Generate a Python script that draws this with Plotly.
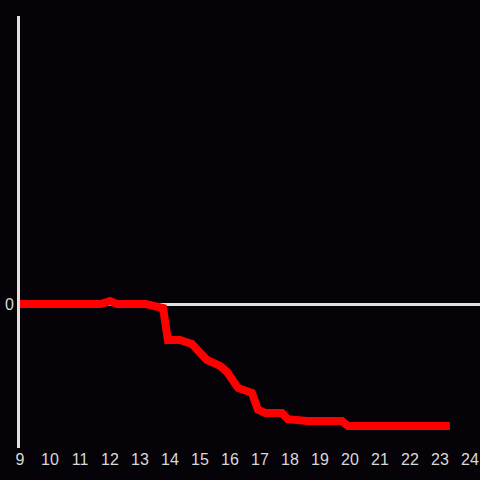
import plotly.graph_objects as go

hours = [9.0, 11.7, 12.0, 12.23, 13.2, 13.77, 13.93, 14.33, 14.73, 15.23, 15.67, 15.9,
         16.27, 16.73, 16.93, 17.17, 17.73, 17.93, 18.57, 19.73, 19.93, 23.33]
values = [0, 0, 1.2, 0, 0, -1.7, -15, -15, -16.7, -23.3, -25.8, -28.3,
          -35, -37, -44, -45.4, -45.4, -48, -48.75, -48.75, -50.8, -50.8]
x_ticks = list(range(9, 25))

fig = go.Figure(go.Scatter(x=hours, y=values, mode="lines",
                           line=dict(color="#ff0000", width=8)))

fig.update_layout(
    width=480, height=480,
    paper_bgcolor="#050308", plot_bgcolor="#050308",
    margin=dict(l=20, r=0, t=16, b=32),
    showlegend=False,
    font=dict(family="Liberation Sans, Arial, sans-serif", size=16, color="#d8d8d8"),
    xaxis=dict(range=[9, 24.333], tickvals=x_ticks, showgrid=False, zeroline=False,
               showline=False, ticks="", tickfont=dict(color="#d8d8d8")),
    yaxis=dict(range=[-60, 120], tickvals=[0], showgrid=False, zeroline=True,
               zerolinecolor="#e0e0e0", zerolinewidth=3,
               showline=True, linecolor="#e0e0e0", linewidth=3, ticks="",
               tickfont=dict(color="#d8d8d8")),
)

fig.write_html("out.html", config={"displayModeBar": False},
               post_script="document.body.style.margin='0';document.body.style.background='#050308';")
